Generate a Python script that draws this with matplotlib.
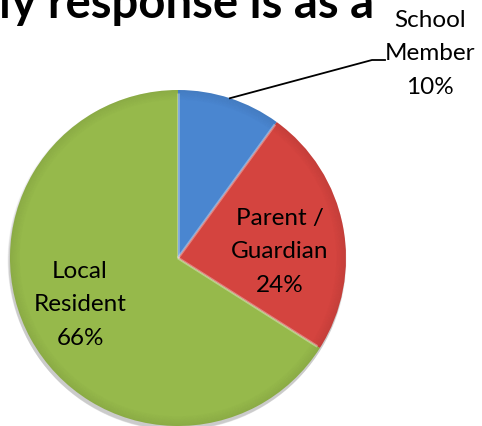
import matplotlib.pyplot as plt
import numpy as np

# survey shares, clockwise from 12 o'clock
groups = ["School\nMember", "Parent /\nGuardian", "Local\nResident"]
shares = [10, 24, 66]
colors = ["#4a86d0", "#d4443f", "#96b94b"]

W, H = 482, 427
cx, cy, R = 178, 427 - 259, 168

plt.rcParams['font.family'] = ['Lato', 'DejaVu Sans']

fig = plt.figure(figsize=(W / 100, H / 100), dpi=100)
ax = fig.add_axes([0, 0, 1, 1])

# soft drop shadow below the pie
for k in range(6):
    ax.add_patch(plt.Circle((cx - 1, cy - 2 - k * 0.5), R + 1.5 - k * 0.3,
                            color='black', alpha=0.035, lw=0, zorder=1))

wedges, _ = ax.pie(shares, colors=colors, startangle=90, counterclock=False,
                   center=(cx, cy), radius=R, frame=True,
                   wedgeprops=dict(linewidth=0, zorder=2))

# darker bevel toward the rim
for k in range(10):
    ax.pie(shares, colors=['black'] * len(shares), startangle=90, counterclock=False,
           center=(cx, cy), radius=R - k, frame=True,
           wedgeprops=dict(width=1.0, linewidth=0, alpha=0.07 * (10 - k) / 10, zorder=3))

# lighter inner edge along each wedge
for w in wedges:
    for t in (np.deg2rad(w.theta1), np.deg2rad(w.theta2)):
        ax.plot([cx, cx + (R - 3) * np.cos(t)], [cy, cy + (R - 3) * np.sin(t)],
                color='white', alpha=0.18, lw=2, zorder=4, solid_capstyle='butt')

ax.set_xlim(0, W)
ax.set_ylim(0, H)
ax.set_aspect('equal')
ax.axis('off')

lbl = dict(ha='center', va='center', fontsize=17.5, color='black', linespacing=1.75, zorder=6)

# School Member label outside with leader line
mid = np.deg2rad((wedges[0].theta1 + wedges[0].theta2) / 2)
px, py = cx + R * np.cos(mid), cy + R * np.sin(mid)
ax.plot([px, 372, 385], [py, H - 61, H - 61], color='black', lw=1.3, zorder=5)
ax.text(430, H - 54, f"{groups[0]}\n{shares[0]}%", **lbl)

ax.text(280, H - 252, f"{groups[1]}\n{shares[1]}%", **lbl)
ax.text(80, H - 305, f"{groups[2]}\n{shares[2]}%", **lbl)

ax.text(-33, H - 18, "My response is as a", ha='left', va='baseline',
        fontsize=34, fontweight='bold', color='black', zorder=6)

fig.savefig("out.png", dpi=100)
